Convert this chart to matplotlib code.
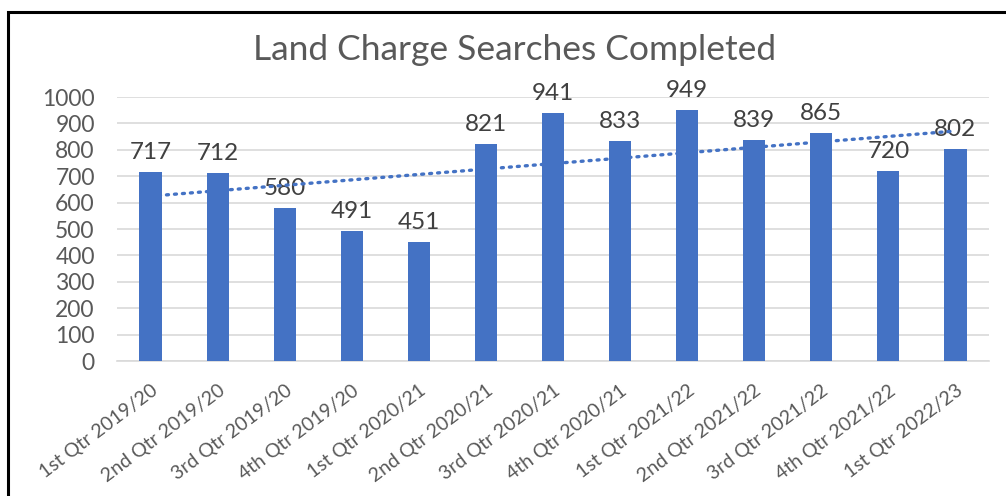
import numpy as np
import matplotlib.pyplot as plt
from matplotlib.patches import Rectangle

# quarters and searches completed
quarters = ["1st Qtr 2019/20", "2nd Qtr 2019/20", "3rd Qtr 2019/20", "4th Qtr 2019/20",
            "1st Qtr 2020/21", "2nd Qtr 2020/21", "3rd Qtr 2020/21", "4th Qtr 2020/21",
            "1st Qtr 2021/22", "2nd Qtr 2021/22", "3rd Qtr 2021/22", "4th Qtr 2021/22",
            "1st Qtr 2022/23"]
searches = [717, 712, 580, 491, 451, 821, 941, 833, 949, 839, 865, 720, 802]
yticks = [0, 100, 200, 300, 400, 500, 600, 700, 800, 900, 1000]

plt.rcParams['font.family'] = ['Lato', 'DejaVu Sans']
grey = '#595959'
blue = '#4472C4'

fig = plt.figure(figsize=(10.06, 4.96), dpi=100)
ax = fig.add_axes([117/1006, 1-361/496, (989-117)/1006, (361-97)/496])

x = np.arange(len(quarters))
ax.bar(x, searches, 0.33, color=blue, zorder=3)
for i in range(len(searches)):
    ax.text(x[i], searches[i] + 34, str(searches[i]), ha='center', va='bottom',
            fontsize=17.5, color='#404040', zorder=4)

# linear trendline like excel
k, b = np.polyfit(x + 1, searches, 1)
ax.plot(x, k*(x+1) + b, linestyle=(0, (0.6, 1.8)), dash_capstyle='round',
        color=blue, linewidth=2.4, zorder=4)

ax.set_xlim(-0.5, len(quarters) - 0.5)
ax.set_ylim(0, 1000)
ax.set_yticks(yticks)
ax.set_xticks(x)
ax.set_xticklabels(quarters, rotation=37, ha='right', rotation_mode='anchor')
ax.tick_params(axis='x', length=0, pad=15, labelsize=14, labelcolor=grey)
ax.tick_params(axis='y', length=0, pad=16, labelsize=16.5, labelcolor=grey)
ax.grid(axis='y', color='#D9D9D9', linewidth=1.2, zorder=0)
for s in ['top', 'right', 'left']:
    ax.spines[s].set_visible(False)
ax.spines['bottom'].set_color('#D9D9D9')
ax.spines['bottom'].set_linewidth(1.2)

fig.text(515/1006, 1-50/496, "Land Charge Searches Completed", ha='center', va='center',
         fontsize=25.5, color=grey)

# outer chart border
fig.patches.append(Rectangle((8/1006, -0.2), 1.2, 1-12/496+0.2, transform=fig.transFigure,
                             fill=False, edgecolor='black', linewidth=2.2))

fig.savefig('out.png', dpi=100)
